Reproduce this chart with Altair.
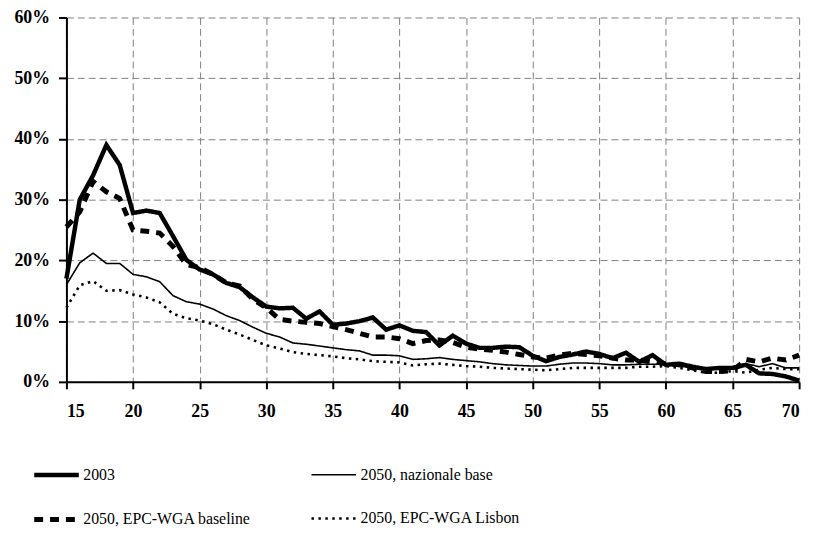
import altair as alt
import pandas as pd

ages = list(range(15, 71))

s2003 = [17, 30, 34, 39, 35.7, 27.8, 28.2, 27.8, 24, 20.1, 18.5, 17.7, 16.3, 15.6, 13.9, 12.4,
         12.1, 12.2, 10.4, 11.6, 9.4, 9.6, 10, 10.6, 8.6, 9.3, 8.4, 8.2, 6, 7.6, 6.3, 5.6, 5.6,
         5.8, 5.7, 4.3, 3.4, 4.1, 4.5, 5, 4.6, 3.9, 4.8, 3.3, 4.4, 2.8, 3, 2.5, 2.1, 2.3, 2.3,
         2.8, 1.4, 1.3, 0.9, 0.2]
naz = [16, 19.6, 21.2, 19.5, 19.5, 17.7, 17.3, 16.5, 14.2, 13.2, 12.8, 12, 10.9, 10.1, 9, 8,
       7.4, 6.4, 6.2, 5.9, 5.6, 5.3, 5.1, 4.4, 4.4, 4.3, 3.7, 3.8, 4, 3.7, 3.5, 3.3, 3, 2.8,
       2.7, 2.6, 2.6, 2.9, 3.1, 3.1, 3, 2.8, 2.8, 2.9, 2.9, 2.9, 2.6, 2.3, 2.1, 2.2, 2.5, 3,
       2.5, 3, 2.3, 2.3]
epc = [25.5, 28, 33, 31.3, 30.2, 25, 24.8, 24.5, 22.3, 19.3, 18.8, 17.7, 16.3, 15.8, 13.6, 12.2,
       10.3, 10, 9.8, 9.6, 9.1, 8.6, 8, 7.4, 7.4, 7.1, 6.3, 6.8, 6.9, 6.5, 5.7, 5.4, 5.2, 4.9,
       4.5, 4.1, 3.9, 4.4, 4.7, 4.5, 4.3, 3.9, 3.6, 3.6, 3.3, 3, 2.8, 2.3, 1.7, 1.7, 1.8, 3.7,
       3.3, 3.9, 3.6, 4.4]
lis = [12.2, 15.9, 16.6, 15, 15.1, 14.4, 13.9, 13.1, 11.2, 10.5, 10.1, 9.5, 8.6, 7.8, 6.9, 6,
       5.5, 4.9, 4.6, 4.4, 4.2, 3.9, 3.7, 3.4, 3.3, 3.2, 2.7, 2.9, 3, 2.8, 2.6, 2.5, 2.3, 2.2,
       2.1, 2, 1.9, 2.1, 2.3, 2.3, 2.3, 2.3, 2.3, 2.5, 2.5, 2.6, 2.3, 1.9, 1.5, 1.5, 1.8, 1.5,
       2.0, 2.3, 2.1, 2.1]

names = ["2003", "2050, nazionale base", "2050, EPC-WGA baseline", "2050, EPC-WGA Lisbon"]
series = [s2003, naz, epc, lis]

rows = []
for name, vals in zip(names, series):
    for a, v in zip(ages, vals):
        rows.append({"age": a, "value": v / 100.0, "serie": name})
df = pd.DataFrame(rows)

FONT = "Liberation Serif, Times New Roman, DejaVu Serif, serif"

# legend order (column-major fill): 2003, EPC baseline | nazionale, Lisbon
leg_order = [names[0], names[2], names[1], names[3]]
dash_range = [[1, 0], [9, 7], [1, 0], [2.5, 4.5]]
width_range = [4.5, 5, 1.6, 2.6]

legend = alt.Legend(
    title=None, orient="none", legendX=-35, legendY=437, columns=2,
    columnPadding=55, rowPadding=11, symbolType="stroke", symbolSize=2025,
    symbolStrokeColor="black",
    labelFont=FONT, labelFontSize=16, labelColor="black",
    labelOffset=2, labelLimit=400,
)

chart = alt.Chart(df).mark_line(color="black", strokeCap="butt", strokeJoin="miter").encode(
    x=alt.X("age:Q", scale=alt.Scale(domain=[15, 70], nice=False),
            axis=alt.Axis(values=list(range(15, 71, 5)), title=None)),
    y=alt.Y("value:Q", scale=alt.Scale(domain=[0, 0.6], nice=False),
            axis=alt.Axis(values=[0, 0.1, 0.2, 0.3, 0.4, 0.5, 0.6], format=".0%", title=None)),
    strokeDash=alt.StrokeDash("serie:N", scale=alt.Scale(domain=leg_order, range=dash_range),
                              legend=legend),
    strokeWidth=alt.StrokeWidth("serie:N", scale=alt.Scale(type="ordinal", domain=leg_order,
                                range=width_range), legend=legend),
    order=alt.Order("age:Q"),
).properties(
    width=740, height=368,
    autosize=alt.AutoSizeParams(type="none"),
    padding={"left": 59, "top": 7, "right": 13, "bottom": 144},
).configure_view(stroke=None).configure_axis(
    grid=True, gridColor="#808080", gridDash=[7, 4], gridWidth=1,
    domainColor="black", domainWidth=2, tickColor="black", tickWidth=2,
    labelFont=FONT, labelFontSize=18, labelFontWeight="bold", labelColor="black",
).configure_axisX(tickSize=7, labelPadding=14).configure_axisY(tickSize=8, labelPadding=9)

chart.save("out.html", embed_options={"renderer": "svg", "actions": False})
